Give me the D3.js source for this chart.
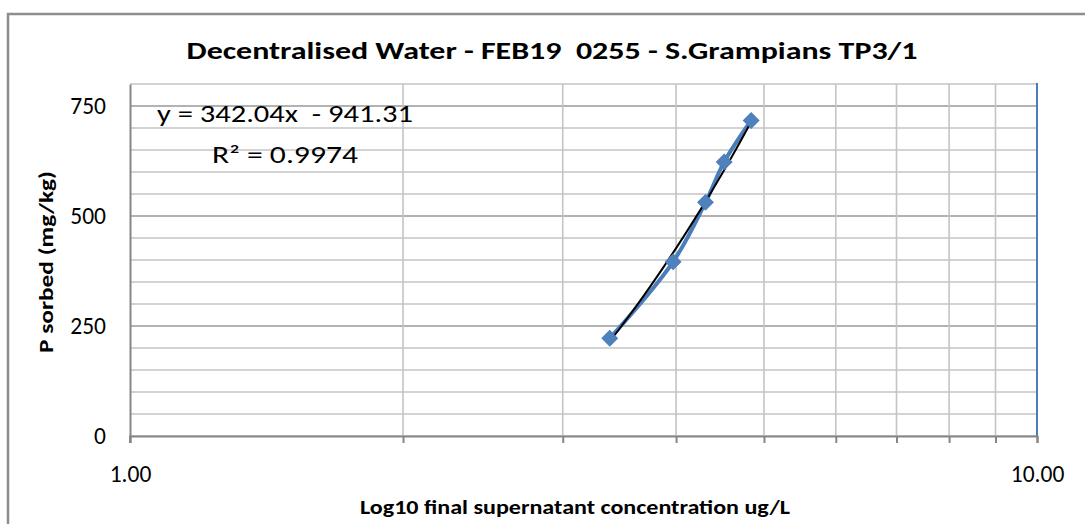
<!DOCTYPE html>
<html>
<head>
<meta charset="utf-8">
<script src="https://cdn.jsdelivr.net/npm/d3@7"></script>
<style>
	body { margin: 0; background: #fff; }
	svg text { font-family: Carlito, Lato, "Open Sans", sans-serif; fill: #000; }
</style>
</head>
<body>
<svg id="chart" width="1085" height="524"></svg>
<script>
// values
const x_values = [3.38, 3.97, 4.31, 4.52, 4.84];
const y_values = [222, 396, 531, 623, 717];
const y_ticks = [0, 250, 500, 750];
const y_minor = [0, 50, 100, 150, 200, 250, 300, 350, 400, 450, 500, 550, 600, 650, 700, 750, 800];
const x_grid = [1, 2, 3, 4, 5, 6, 7, 8, 9, 10];
const x_labels = [1, 10];
const trend_coef = [342.04, -941.31]; // slope, intercept
const title_text = "Decentralised Water - FEB19  0255 - S.Grampians TP3/1";
const eq_lines = ["y = 342.04x  - 941.31", "R² = 0.9974"];

const svg = d3.select("#chart");
const plot = { left: 130, right: 1037, top: 84, bottom: 436 };

// outer chart frame
svg.append("rect")
	.attr("x", 8).attr("y", 14)
	.attr("width", 1100).attr("height", 600)
	.attr("fill", "none")
	.attr("stroke", "#8e8e8e")
	.attr("stroke-width", 2.5);

const x = d3.scaleLog().domain([1, 10]).range([plot.left, plot.right]);
const y = d3.scaleLinear().domain([0, 800]).range([plot.bottom, plot.top]);

// gridlines
const grid = svg.append("g");
grid.selectAll(".hminor")
	.data(y_minor)
	.enter().append("line")
	.attr("x1", plot.left).attr("x2", plot.right)
	.attr("y1", d => y(d)).attr("y2", d => y(d))
	.attr("stroke", d => (d % 250 === 0 && d > 0) ? "#999" : "#c4c4c4")
	.attr("stroke-width", 1.6);
grid.selectAll(".vgrid")
	.data(x_grid.slice(1, -1))
	.enter().append("line")
	.attr("x1", d => x(d)).attr("x2", d => x(d))
	.attr("y1", plot.top).attr("y2", plot.bottom)
	.attr("stroke", "#c4c4c4")
	.attr("stroke-width", 1.6);

// right edge (blue)
svg.append("line")
	.attr("x1", plot.right).attr("x2", plot.right)
	.attr("y1", plot.top - 1).attr("y2", plot.bottom)
	.attr("stroke", "#4a7ebb").attr("stroke-width", 2);

// x axis
const x_axis = d3.axisBottom(x)
	.tickValues(x_grid)
	.tickSize(7)
	.tickFormat(d => x_labels.includes(d) ? d3.format(".2f")(d) : "");
const xg = svg.append("g")
	.attr("transform", "translate(0," + plot.bottom + ")")
	.call(x_axis);
xg.select(".domain").attr("stroke", "#868686").attr("stroke-width", 2);
xg.selectAll(".tick line").attr("stroke", "#868686").attr("stroke-width", 2);
xg.selectAll(".tick text")
	.attr("y", 46)
	.attr("dy", 0)
	.style("font-size", "23.5px");

// y axis
const y_axis = d3.axisLeft(y)
	.tickValues(y_ticks)
	.tickSize(0)
	.tickPadding(24);
const yg = svg.append("g")
	.attr("transform", "translate(" + plot.left + ",0)")
	.call(y_axis);
yg.select(".domain").attr("stroke", "#868686").attr("stroke-width", 2);
yg.selectAll(".tick text").style("font-size", "23.5px");
svg.append("line")
	.attr("x1", plot.left).attr("x2", plot.left)
	.attr("y1", plot.bottom).attr("y2", plot.bottom + 7)
	.attr("stroke", "#868686").attr("stroke-width", 2);

// data series
const line = d3.line()
	.x((d, i) => x(x_values[i]))
	.y((d, i) => y(y_values[i]))
	.curve(d3.curveCatmullRom);
svg.append("path")
	.datum(y_values)
	.attr("d", line)
	.attr("fill", "none")
	.attr("stroke", "#4a7ebb")
	.attr("stroke-width", 4);

// trendline
const trend_x = d3.range(0, 41).map(i => d3.min(x_values) + i * (d3.max(x_values) - d3.min(x_values)) / 40);
const trend = d3.line()
	.x(d => x(d))
	.y(d => y(trend_coef[0] * d + trend_coef[1]));
svg.append("path")
	.datum(trend_x)
	.attr("d", trend)
	.attr("fill", "none")
	.attr("stroke", "#000")
	.attr("stroke-width", 2);

// markers
svg.selectAll(".marker")
	.data(y_values)
	.enter().append("path")
	.attr("d", d3.symbol(d3.symbolSquare, 120))
	.attr("transform", (d, i) => "translate(" + x(x_values[i]) + "," + y(d) + ") rotate(45)")
	.attr("fill", "#4f81bd")
	.attr("stroke", "#4a7ebb");

// trendline label
const eq_widths = [256, 146];
svg.selectAll(".eq")
	.data(eq_lines)
	.enter().append("text")
	.attr("x", 285)
	.attr("y", (d, i) => 122 + i * 41)
	.attr("text-anchor", "middle")
	.attr("textLength", (d, i) => eq_widths[i])
	.attr("lengthAdjust", "spacingAndGlyphs")
	.style("white-space", "pre")
	.style("font-size", "23.5px")
	.text(d => d);

// titles
svg.append("text")
	.attr("x", 552).attr("y", 59)
	.attr("text-anchor", "middle")
	.style("white-space", "pre")
	.style("font-size", "24px")
	.style("font-weight", "bold")
	.attr("textLength", 731)
	.attr("lengthAdjust", "spacingAndGlyphs")
	.text(title_text);

svg.append("text")
	.attr("transform", "translate(53,262) rotate(-90)")
	.attr("text-anchor", "middle")
	.attr("textLength", 182)
	.attr("lengthAdjust", "spacingAndGlyphs")
	.style("font-size", "21px")
	.style("font-weight", "bold")
	.text("P sorbed (mg/kg)");

svg.append("text")
	.attr("x", 575).attr("y", 514)
	.attr("text-anchor", "middle")
	.attr("textLength", 430)
	.attr("lengthAdjust", "spacingAndGlyphs")
	.style("font-size", "21px")
	.style("font-weight", "bold")
	.text("Log10 final supernatant concentration ug/L");
</script>
</body>
</html>
